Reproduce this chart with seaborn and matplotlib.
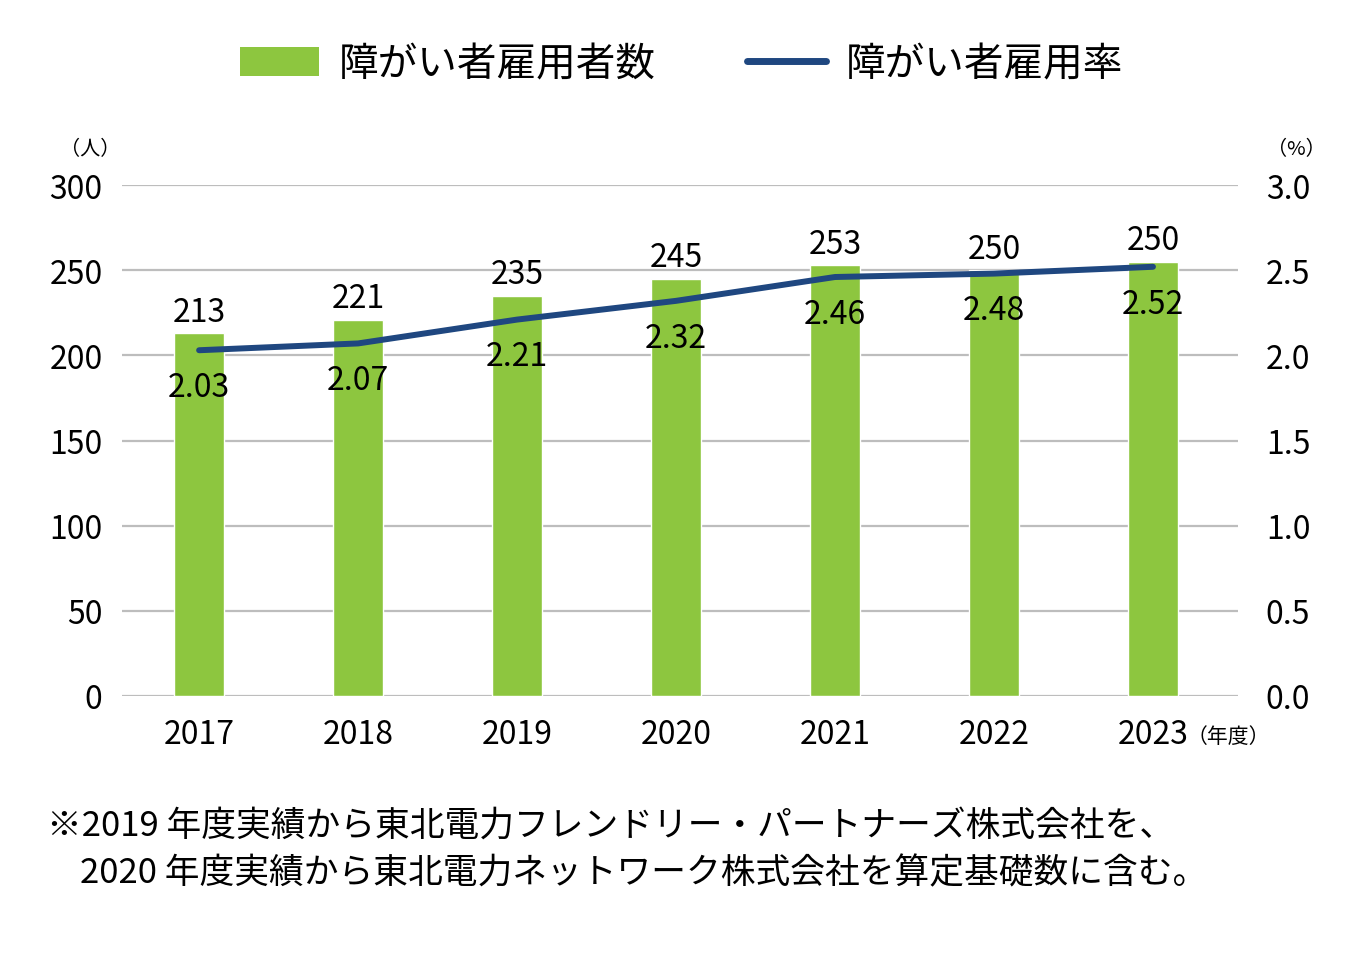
import numpy as np
import pandas as pd
import matplotlib
matplotlib.use("Agg")
import matplotlib.pyplot as plt
import seaborn as sns
from matplotlib.patches import Patch
from matplotlib.lines import Line2D

sns.set_style("white")
plt.rcParams['font.family'] = ['Noto Sans CJK JP', 'DejaVu Sans']
plt.rcParams['text.color'] = 'black'
plt.rcParams['xtick.color'] = 'black'
plt.rcParams['ytick.color'] = 'black'

# ---------------- data ----------------
years = ['2017', '2018', '2019', '2020', '2021', '2022', '2023']
count_labels = [213, 221, 235, 245, 253, 250, 250]     # printed values
bar_heights = [213, 221, 235, 245, 253, 250, 255]      # bar tops as drawn
rate = [2.03, 2.07, 2.21, 2.32, 2.46, 2.48, 2.52]
left_ticks = [0, 50, 100, 150, 200, 250, 300]
right_ticks = [0.0, 0.5, 1.0, 1.5, 2.0, 2.5, 3.0]
note_lines = ['※2019 年度実績から東北電力フレンドリー・パートナーズ株式会社を、',
              '2020 年度実績から東北電力ネットワーク株式会社を算定基礎数に含む。']

GREEN = '#8DC63F'
NAVY = '#1F4780'
GRID = '#BDBDBD'

df = pd.DataFrame({'year': years, 'count': bar_heights, 'rate': rate,
                   'pos': np.arange(len(years))})

fig = plt.figure(figsize=(13.71, 9.54), dpi=100)
ax = fig.add_axes([0.089, 0.2694, 0.814, 0.5356])

sns.barplot(data=df, x='year', y='count', color=GREEN, saturation=1,
            width=0.315, ax=ax, zorder=2)
ax.set_ylim(0, 300)
ax.set_xlim(-0.485, 6.535)
ax.set_yticks(left_ticks)
ax.set_yticklabels([str(t) for t in left_ticks])
ax.yaxis.grid(True, color=GRID, lw=1.6)
ax.set_axisbelow(True)
ax.set_xlabel(''); ax.set_ylabel('')
for s in ax.spines.values():
    s.set_visible(False)
ax.tick_params(axis='both', length=0, labelsize=23)
ax.tick_params(axis='y', pad=14)
ax.tick_params(axis='x', pad=16)

for i, (h, v) in enumerate(zip(bar_heights, count_labels)):
    ax.annotate(str(v), (i, h), xytext=(0, 4), textcoords='offset points',
                ha='center', va='bottom', fontsize=23)

ax2 = ax.twinx()
sns.lineplot(data=df, x='pos', y='rate', color=NAVY, lw=4.3, ax=ax2,
             solid_capstyle='round', zorder=3)
ax2.set_ylim(0, 3.0)
ax2.set_yticks(right_ticks)
ax2.set_yticklabels([f'{t:.1f}' for t in right_ticks])
ax2.set_ylabel('')
for s in ax2.spines.values():
    s.set_visible(False)
ax2.tick_params(axis='y', length=0, labelsize=23, pad=20)
ax2.grid(False)
for i, r in enumerate(rate):
    ax2.annotate(f'{r:.2f}', (i, r), xytext=(0, -15), textcoords='offset points',
                 ha='center', va='top', fontsize=23)

# unit labels
fig.text(90 / 1371, 1 - 150 / 954, '（人）', ha='center', va='center', fontsize=14.5)
fig.text(1296 / 1371, 1 - 150 / 954, '（%）', ha='center', va='center', fontsize=14.5)
fig.text(1228 / 1371, 1 - 737 / 954, '（年度）', ha='center', va='center', fontsize=15)

# legend
handles = [Patch(facecolor=GREEN, edgecolor='none'),
           Line2D([0], [0], color=NAVY, lw=5, solid_capstyle='round')]
fig.legend(handles, ['障がい者雇用者数', '障がい者雇用率'], loc='center',
           bbox_to_anchor=(0.497, 1 - 65 / 954), ncol=2, frameon=False,
           fontsize=28.5, handlelength=2.0, handleheight=0.75,
           handletextpad=0.5, columnspacing=2.3)

# footnote
fig.text(47 / 1371, 1 - 826 / 954, note_lines[0], ha='left', va='center', fontsize=25)
fig.text(80 / 1371, 1 - 874 / 954, note_lines[1], ha='left', va='center', fontsize=25)

fig.savefig('out.png', dpi=100)
